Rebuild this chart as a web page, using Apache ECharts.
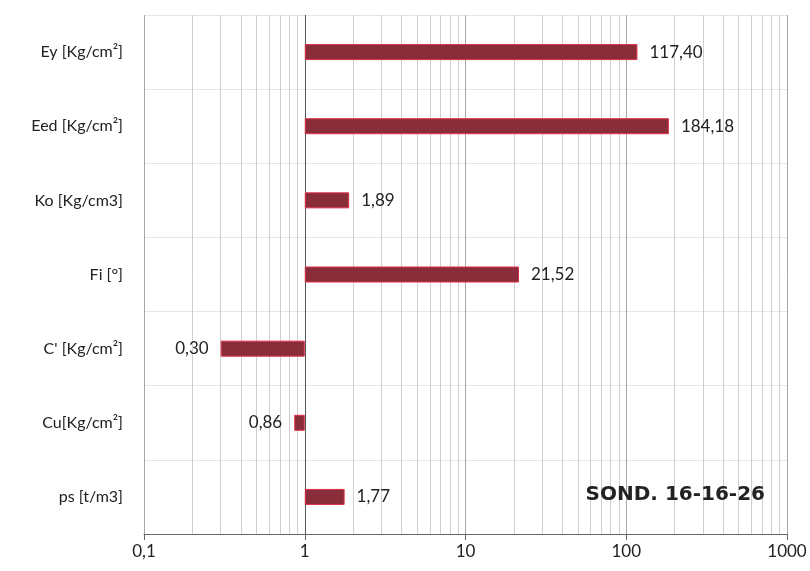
<!DOCTYPE html>
<html>
<head>
<meta charset="utf-8">
<script src="https://cdn.jsdelivr.net/npm/echarts@6/dist/echarts.min.js"></script>
<style>html,body{margin:0;padding:0;background:#fff}#c{width:810px;height:571px}</style>
</head>
<body>
<div id="c"></div>
<script>
var categories = ['Ey [Kg/cm²]', 'Eed [Kg/cm²]', 'Ko [Kg/cm3]', 'Fi [°]', "C' [Kg/cm²]", 'Cu[Kg/cm²]', 'ps [t/m3]'];
var values = [117.40, 184.18, 1.89, 21.52, 0.30, 0.86, 1.77];
var majorTicks = [0.1, 1, 10, 100, 1000];
var minorTicks = [0.2,0.3,0.4,0.5,0.6,0.7,0.8,0.9, 2,3,4,5,6,7,8,9, 20,30,40,50,60,70,80,90, 200,300,400,500,600,700,800,900];
var title = 'SOND. 16-16-26';

var FONT = 'Lato, "Open Sans", sans-serif';
function fmt(v){ return v.toFixed(2).replace('.', ','); }

var chart = echarts.init(document.getElementById('c'));
var barData = values.map(function(v){
  return { value: v, label: { position: v < 1 ? 'left' : 'right' } };
});
var minorLines = minorTicks.map(function(v){ return { xAxis: v, lineStyle: { color: '#cfcfcf', width: 1, type: 'solid' } }; });
minorLines.push({ xAxis: 1, lineStyle: { color: '#555', width: 1, type: 'solid' } });

chart.setOption({
  animation: false,
  grid: { left: 144, right: 23, top: 15, bottom: 37 },
  xAxis: {
    type: 'log', logBase: 10, min: 0.1, max: 1000,
    axisLine: { show: true, lineStyle: { color: '#666', width: 1 } },
    axisTick: { show: true, length: 6, lineStyle: { color: '#666' } },
    axisLabel: { color: '#222', fontSize: 17, fontFamily: FONT, margin: 9,
      formatter: function(v){ return String(+v.toPrecision(3)).replace('.', ','); } },
    splitLine: { show: true, lineStyle: { color: '#a8a8a8', width: 1 } }
  },
  yAxis: {
    type: 'category', data: categories, inverse: true,
    axisLine: { show: false }, axisTick: { show: false },
    axisLabel: { color: '#222', fontSize: 16, fontFamily: FONT, margin: 21 },
    splitLine: { show: true, lineStyle: { color: '#e6e6e6', width: 1 } }
  },
  series: [{
    type: 'bar',
    data: barData,
    barWidth: 16,
    itemStyle: { color: '#8a2d3b', borderColor: '#dd3048', borderWidth: 1 },
    label: { show: true, distance: 12, color: '#222', fontSize: 17, fontFamily: FONT,
      formatter: function(p){ return fmt(p.value); } },
    markLine: { silent: true, symbol: 'none', label: { show: false }, animation: false, z: 1, data: minorLines },
    z: 5
  }],
  graphic: [{
    type: 'text', right: 45, top: 485, z: 10,
    style: { text: title, fill: '#222', fontSize: 20, fontWeight: 'bold', fontFamily: 'DejaVu Sans' }
  }]
});
</script>
</body>
</html>
